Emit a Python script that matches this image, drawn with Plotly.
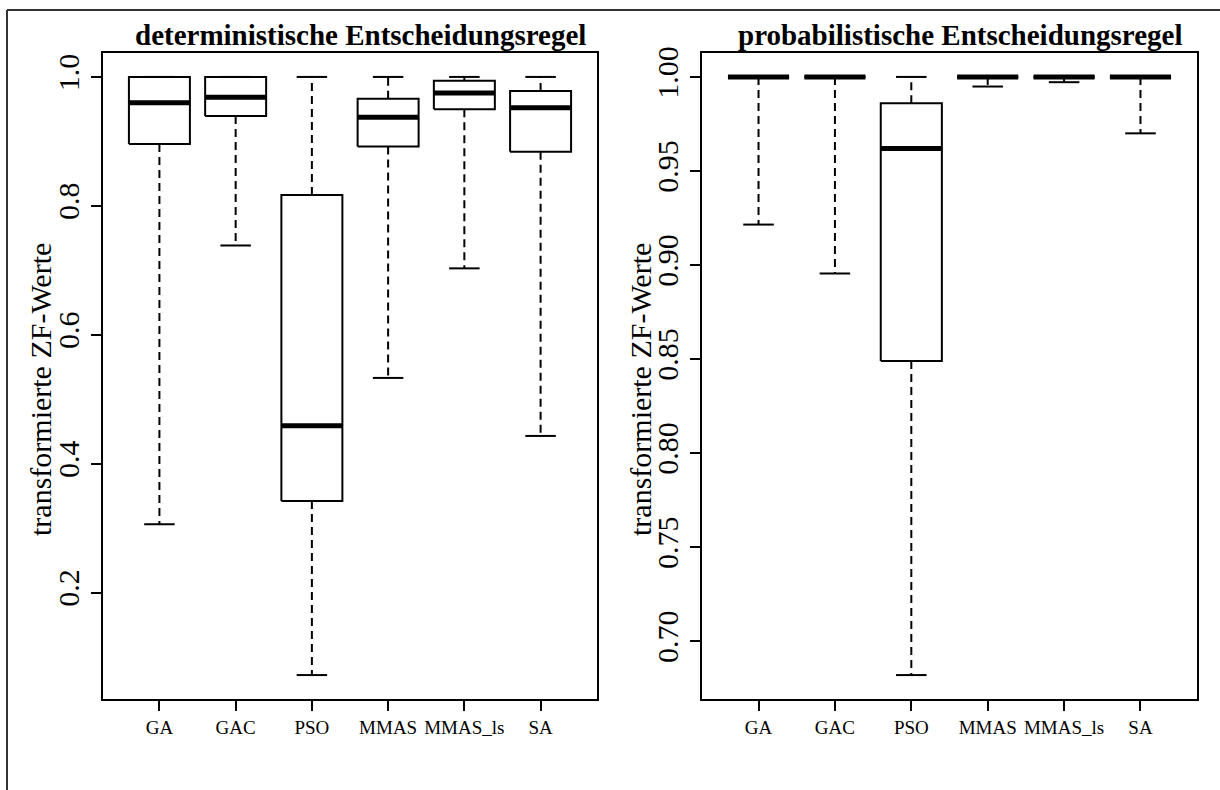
import plotly.graph_objects as go

W, H = 1220, 790

categories = ["GA", "GAC", "PSO", "MMAS", "MMAS_ls", "SA"]

# deterministische Entscheidungsregel
det_lower = [0.306, 0.7385, 0.072, 0.533, 0.703, 0.443]
det_q1 = [0.896, 0.9395, 0.342, 0.892, 0.950, 0.884]
det_median = [0.960, 0.9685, 0.459, 0.9375, 0.975, 0.952]
det_q3 = [1.0, 1.0, 0.817, 0.966, 0.994, 0.978]
det_upper = [1.0, 1.0, 1.0, 1.0, 1.0, 1.0]

# probabilistische Entscheidungsregel
prob_lower = [0.9215, 0.8955, 0.682, 0.9949, 0.9972, 0.970]
prob_q1 = [1.0, 1.0, 0.849, 1.0, 1.0, 1.0]
prob_median = [1.0, 1.0, 0.962, 1.0, 1.0, 1.0]
prob_q3 = [1.0, 1.0, 0.986, 1.0, 1.0, 1.0]
prob_upper = [1.0, 1.0, 1.0, 1.0, 1.0, 1.0]

det_ticks = [0.2, 0.4, 0.6, 0.8, 1.0]
det_ticktext = ["0.2", "0.4", "0.6", "0.8", "1.0"]
prob_ticks = [0.70, 0.75, 0.80, 0.85, 0.90, 0.95, 1.00]
prob_ticktext = ["0.70", "0.75", "0.80", "0.85", "0.90", "0.95", "1.00"]

titles = ["deterministische Entscheidungsregel", "probabilistische Entscheidungsregel"]
ylabel = "transformierte ZF-Werte"

FONT = "Liberation Serif, Times New Roman, serif"
fig = go.Figure()

panels = [
    (det_lower, det_q1, det_median, det_q3, det_upper, "x", "y"),
    (prob_lower, prob_q1, prob_median, prob_q3, prob_upper, "x2", "y2"),
]

BW = 0.4
CW = 0.2
for lo, q1, med, q3, up, xa, ya in panels:
    bx, by, mx, my, wx, wy, cx, cy = [], [], [], [], [], [], [], []
    for i in range(len(categories)):
        p = i + 1
        bx += [p - BW, p + BW, p + BW, p - BW, p - BW, None]
        by += [q1[i], q1[i], q3[i], q3[i], q1[i], None]
        mx += [p - BW, p + BW, None]
        my += [med[i], med[i], None]
        if up[i] > q3[i]:
            wx += [p, p, None]
            wy += [q3[i], up[i], None]
        if lo[i] < q1[i]:
            wx += [p, p, None]
            wy += [q1[i], lo[i], None]
        cx += [p - CW, p + CW, None, p - CW, p + CW, None]
        cy += [up[i], up[i], None, lo[i], lo[i], None]
    fig.add_trace(go.Scatter(x=wx, y=wy, mode="lines", xaxis=xa, yaxis=ya,
                             line=dict(color="black", width=2, dash="8px,5px"),
                             hoverinfo="skip", showlegend=False))
    fig.add_trace(go.Scatter(x=cx, y=cy, mode="lines", xaxis=xa, yaxis=ya,
                             line=dict(color="black", width=2),
                             hoverinfo="skip", showlegend=False))
    fig.add_trace(go.Scatter(x=bx, y=by, mode="lines", xaxis=xa, yaxis=ya,
                             line=dict(color="black", width=2),
                             hoverinfo="skip", showlegend=False))
    fig.add_trace(go.Scatter(x=mx, y=my, mode="lines", xaxis=xa, yaxis=ya,
                             line=dict(color="black", width=5),
                             hoverinfo="skip", showlegend=False))


def yr(lo, up):
    mn, mx_ = min(lo), max(up)
    r = mx_ - mn
    return [mn - 0.04 * r, mx_ + 0.04 * r]


n = len(categories)
xrange_ = [0.5 - 0.04 * n, n + 0.5 + 0.04 * n]

xdoms = [[103 / W, 597 / W], [702 / W, 1197 / W]]
ydom = [1 - 699 / H, 1 - 53 / H]

common_x = dict(tickmode="array", tickvals=list(range(1, n + 1)), ticktext=categories,
                range=xrange_, showgrid=False, zeroline=False, showline=True,
                linecolor="black", linewidth=2, mirror=True, ticks="outside",
                ticklen=10, tickwidth=2, tickcolor="black", tickangle=0,
                tickfont=dict(family=FONT, size=19, color="black"), automargin=False)
common_y = dict(tickmode="array", showgrid=False, zeroline=False, showline=True,
                linecolor="black", linewidth=2, mirror=True, ticks="outside",
                ticklen=10, tickwidth=2, tickcolor="black", tickangle=-90,
                tickfont=dict(family=FONT, size=30, color="black"), automargin=False)

fig.update_layout(
    width=W, height=H,
    margin=dict(l=0, r=0, t=0, b=0),
    paper_bgcolor="white", plot_bgcolor="white",
    xaxis=dict(domain=xdoms[0], anchor="y", **common_x),
    xaxis2=dict(domain=xdoms[1], anchor="y2", **common_x),
    yaxis=dict(domain=ydom, anchor="x", range=yr(det_lower, det_upper),
               tickvals=det_ticks, ticktext=det_ticktext, **common_y),
    yaxis2=dict(domain=ydom, anchor="x2", range=yr(prob_lower, prob_upper),
                tickvals=prob_ticks, ticktext=prob_ticktext, **common_y),
    showlegend=False,
)

annotations = []
for k in range(2):
    cxp = (xdoms[k][0] + xdoms[k][1]) / 2 + 10 / W
    annotations.append(dict(text="<b>" + titles[k] + "</b>", x=cxp, y=1 - 35 / H,
                            xref="paper", yref="paper", xanchor="center", yanchor="middle",
                            showarrow=False, font=dict(family=FONT, size=29, color="black")))
for xp in [40 / W, 640 / W]:
    annotations.append(dict(text=ylabel, x=xp, y=1 - 390 / H,
                            xref="paper", yref="paper", xanchor="center", yanchor="middle",
                            textangle=-90, showarrow=False,
                            font=dict(family=FONT, size=30, color="black")))
fig.update_layout(annotations=annotations)

fig.update_layout(shapes=[
    dict(type="line", xref="paper", yref="paper", x0=7 / W, x1=1.0, y0=1 - 10 / H, y1=1 - 10 / H,
         line=dict(color="#333333", width=2)),
    dict(type="line", xref="paper", yref="paper", x0=7 / W, x1=7 / W, y0=0, y1=1 - 10 / H,
         line=dict(color="#333333", width=2)),
])

fig.write_html("out.html")
